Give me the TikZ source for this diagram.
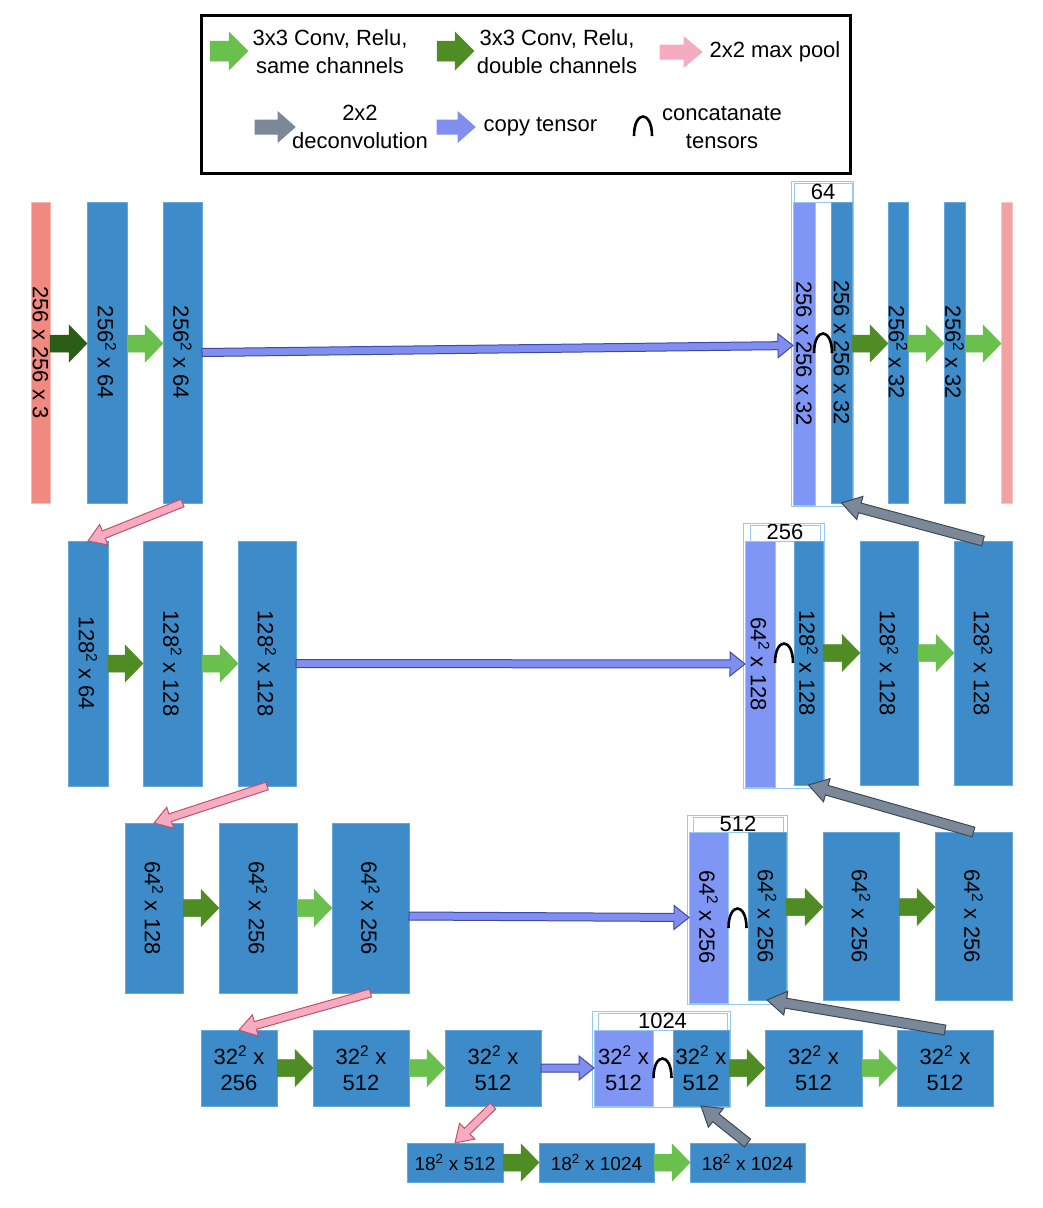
\documentclass[tikz,border=0pt]{standalone}
\usepackage{fontspec}
\setmainfont{Liberation Sans}
\usetikzlibrary{calc,fit}

\definecolor{barblue}{RGB}{61,139,201}
\definecolor{barline}{RGB}{100,168,222}
\definecolor{catpurple}{RGB}{128,150,245}
\definecolor{catline}{RGB}{150,200,240}
\definecolor{inpink}{RGB}{240,137,130}
\definecolor{outpink}{RGB}{242,162,160}
\definecolor{convlight}{RGB}{106,192,76}
\definecolor{convdark}{RGB}{80,140,36}
\definecolor{convdeep}{RGB}{42,94,22}
\definecolor{poolfill}{RGB}{245,172,192}
\definecolor{poolline}{RGB}{195,80,105}
\definecolor{upfill}{RGB}{122,136,152}
\definecolor{upline}{RGB}{62,72,88}
\definecolor{copyfill}{RGB}{128,142,240}
\definecolor{copyline}{RGB}{62,72,165}

\newcommand\barfont{\fontsize{22}{26}\selectfont}
\newcommand\smallbarfont{\fontsize{19}{22}\selectfont}
\newcommand\legfont{\fontsize{22}{28}\selectfont}
\newcommand\sq{\textsuperscript{2}}

\newcommand\fatarrow[6][]{%
  \path (#2) coordinate (fas) (#3) coordinate (fae);
  \path ($(fae)!#6!(fas)$) coordinate (fah);
  \filldraw[#1] ($(fas)!#4!90:(fae)$) -- ($(fah)!#4!-90:(fas)$)
    -- ($(fah)!#5!-90:(fas)$) -- (fae) -- ($(fah)!#5!90:(fas)$)
    -- ($(fah)!#4!90:(fas)$) -- ($(fas)!#4!-90:(fae)$) -- cycle;
}
\newcommand\convto[3]{\fatarrow[#1]{#2}{#3}{8.5pt}{18.5pt}{18pt}}
\newcommand\poolto[2]{\fatarrow[poolarrow]{#1}{#2}{4pt}{11pt}{17pt}}
\newcommand\upto[2]{\fatarrow[deconv]{#1}{#2}{5pt}{12pt}{19pt}}
\newcommand\copyto[2]{\fatarrow[copyarrow]{#1}{#2}{4pt}{12pt}{15pt}}
\newcommand\capsym[2]{\draw[capline] (#1-9,#2) .. controls (#1-9,#2-26) and (#1+9,#2-26) .. (#1+9,#2);}

\tikzset{
  bar/.style={draw=barline, fill=barblue, line width=0.8pt, inner sep=0pt, outer sep=0pt},
  catbar/.style={bar, draw=catline, fill=catpurple},
  inbar/.style={bar, draw=inpink!60!white, fill=inpink},
  outbar/.style={bar, draw=outpink!60!white, fill=outpink},
  head/.style={draw=catline, fill=white, line width=0.8pt, inner sep=0pt, outer sep=0pt,
    text height=13pt, text depth=0pt, font=\barfont},
  catbox/.style={draw=catline, line width=1.2pt, inner sep=1.5pt},
  vtext/.style={rotate=-90, font=\barfont, inner sep=0pt},
  htext/.style={font=\barfont, align=center},
  small/.style={font=\smallbarfont},
  convL/.style={fill=convlight, draw=convlight, line width=0.5pt},
  convD/.style={fill=convdark, draw=convdark, line width=0.5pt},
  convX/.style={fill=convdeep, draw=convdeep, line width=0.5pt},
  poolarrow/.style={fill=poolfill, draw=poolline, line width=1pt},
  deconv/.style={fill=upfill, draw=upline, line width=1pt},
  copyarrow/.style={fill=copyfill, draw=copyline, line width=1pt},
  capline/.style={draw=black, line width=2.6pt}
}

\begin{document}
\begin{tikzpicture}[x=1pt, y=-1pt]
\useasboundingbox (0,0) rectangle (1042,1208);

\node[draw, line width=3pt, minimum width=649, minimum height=158, inner sep=0pt] (key) at (526,94.5) {};
\fatarrow[convL]{210,51}{248,51}{10pt}{19pt}{19pt}
\fatarrow[convD]{437,51}{474,51}{10pt}{19pt}{19pt}
\fatarrow[poolarrow, draw=poolfill]{660,52}{702,52}{7pt}{15pt}{18pt}
\fatarrow[deconv, draw=upfill]{255,127}{295,127}{7pt}{15pt}{17pt}
\fatarrow[copyarrow, draw=copyfill]{437,127}{475,127}{7pt}{15pt}{17pt}
\node[htext, font=\legfont] (k1) at (330,52) {3x3 Conv, Relu,\\same channels};
\node[htext, font=\legfont] (k2) at (557,52) {3x3 Conv, Relu,\\double channels};
\node[htext, anchor=west] (k3) at (706,52) {2x2 max pool};
\node[htext, font=\legfont] (k4) at (360,127) {2x2\\deconvolution};
\node[htext, anchor=west] (k5) at (480,127) {copy tensor};
\node[htext, font=\legfont] (k6) at (722,127) {concatanate\\tensors};
\capsym{643}{136}

\node[inbar, minimum width=19, minimum height=301, label={[vtext]center:256 x 256 x 3}] (in) at (40.5,352.5) {};
\node[bar, minimum width=40, minimum height=301, label={[vtext]center:256\sq{} x 64}] (d11) at (107,352.5) {};
\node[bar, minimum width=39, minimum height=301, label={[vtext]center:256\sq{} x 64}] (d12) at (182.5,352.5) {};
\node[head, minimum width=58, minimum height=19] (h1) at (823,192.5) {64};
\node[catbar, minimum width=22, minimum height=303, label={[vtext]center:256 x 256 x 32}] (p1) at (804,353.5) {};
\node[bar, minimum width=21, minimum height=301, label={[vtext]center:256 x 256 x 32}] (u11) at (841.5,352.5) {};
\node[bar, minimum width=20, minimum height=301, label={[vtext]center:256\sq{} x 32}] (u12) at (898,352.5) {};
\node[bar, minimum width=21, minimum height=301, label={[vtext]center:256\sq{} x 32}] (u13) at (954.5,352.5) {};
\node[outbar, minimum width=11, minimum height=301] (out) at (1006.5,352.5) {};
\node[catbox, fit=(h1)(p1)(u11)] (c1) {};

\node[bar, minimum width=40, minimum height=245, label={[vtext]center:128\sq{} x 64}] (d21) at (88,663.5) {};
\node[bar, minimum width=59, minimum height=245, label={[vtext]center:128\sq{} x 128}] (d22) at (172.5,663.5) {};
\node[bar, minimum width=58, minimum height=245, label={[vtext]center:128\sq{} x 128}] (d23) at (267,663.5) {};
\node[head, minimum width=70, minimum height=16] (h2) at (785,533) {256};
\node[catbar, minimum width=30, minimum height=246, label={[vtext]center:64\sq{} x 128}] (p2) at (760,664) {};
\node[bar, minimum width=29, minimum height=244, label={[vtext]center:128\sq{} x 128}] (u21) at (808.5,663) {};
\node[bar, minimum width=58, minimum height=244, label={[vtext]center:128\sq{} x 128}] (u22) at (889,663) {};
\node[bar, minimum width=58, minimum height=244, label={[vtext]center:128\sq{} x 128}] (u23) at (983,663) {};
\node[catbox, fit=(h2)(p2)(u21)] (c2) {};

\node[bar, minimum width=58, minimum height=170, label={[vtext]center:64\sq{} x 128}] (d31) at (154,908) {};
\node[bar, minimum width=78, minimum height=170, label={[vtext]center:64\sq{} x 256}] (d32) at (258,908) {};
\node[bar, minimum width=77, minimum height=170, label={[vtext]center:64\sq{} x 256}] (d33) at (370.5,908) {};
\node[head, minimum width=90, minimum height=15] (h3) at (738,824.5) {512};
\node[catbar, minimum width=39, minimum height=171, label={[vtext]center:64\sq{} x 256}] (p3) at (708.5,917.5) {};
\node[bar, minimum width=38, minimum height=168, label={[vtext]center:64\sq{} x 256}] (u31) at (767,916) {};
\node[bar, minimum width=76, minimum height=168, label={[vtext]center:64\sq{} x 256}] (u32) at (861,916) {};
\node[bar, minimum width=77, minimum height=168, label={[vtext]center:64\sq{} x 256}] (u33) at (973.5,916) {};
\node[catbox, fit=(h3)(p3)(u31)] (c3) {};

\node[bar, htext, minimum width=76, minimum height=76] (d41) at (239,1068) {32\sq{} x\\256};
\node[bar, htext, minimum width=96, minimum height=76] (d42) at (361,1068) {32\sq{} x\\512};
\node[bar, htext, minimum width=96, minimum height=76] (d43) at (493,1068) {32\sq{} x\\512};
\node[head, minimum width=129, minimum height=17] (h4) at (662.5,1021.5) {1024};
\node[catbar, htext, minimum width=59, minimum height=76] (p4) at (623.5,1068) {32\sq{} x\\512};
\node[bar, htext, minimum width=56, minimum height=76] (u41) at (701,1068) {32\sq{} x\\512};
\node[bar, htext, minimum width=97, minimum height=76] (u42) at (813.5,1068) {32\sq{} x\\512};
\node[bar, htext, minimum width=96, minimum height=76] (u43) at (945,1068) {32\sq{} x\\512};
\node[catbox, fit=(h4)(p4)(u41)] (c4) {};

\node[bar, small, minimum width=96, minimum height=39] (b1) at (455,1162.5) {18\sq{} x 512};
\node[bar, small, minimum width=115, minimum height=39] (b2) at (596.5,1162.5) {18\sq{} x 1024};
\node[bar, small, minimum width=115, minimum height=39] (b3) at (747.5,1162.5) {18\sq{} x 1024};

\convto{convX}{[yshift=9pt]in.east}{[yshift=9pt]d11.west}
\convto{convL}{[yshift=9pt]d11.east}{[yshift=9pt]d12.west}
\convto{convD}{[yshift=9pt]u11.east}{[yshift=9pt]u12.west}
\convto{convL}{[yshift=9pt]u12.east}{[yshift=9pt]u13.west}
\convto{convL}{[yshift=9pt]u13.east}{[yshift=9pt]out.west}
\copyto{d12.east}{[yshift=8pt]p1.west}
\capsym{823}{353}

\convto{convD}{d21.east}{d22.west}
\convto{convL}{d22.east}{d23.west}
\convto{convD}{[yshift=10pt]u21.east}{[yshift=10pt]u22.west}
\convto{convL}{[yshift=10pt]u22.east}{[yshift=10pt]u23.west}
\copyto{d23.east}{p2.west}
\poolto{d12.south}{d21.north}
\upto{u23.north}{u11.south}
\capsym{784}{663}

\convto{convD}{d31.east}{d32.west}
\convto{convL}{d32.east}{d33.west}
\convto{convD}{[yshift=9pt]u31.east}{[yshift=9pt]u32.west}
\convto{convD}{[yshift=9pt]u32.east}{[yshift=9pt]u33.west}
\copyto{[yshift=-8pt]d33.east}{p3.west}
\poolto{d23.south}{d31.north}
\upto{u33.north}{u21.south}
\capsym{737.5}{928}

\convto{convD}{d41.east}{d42.west}
\convto{convL}{d42.east}{d43.west}
\convto{convD}{u41.east}{u42.west}
\convto{convL}{u42.east}{u43.west}
\copyto{d43.east}{p4.west}
\poolto{d33.south}{d41.north}
\upto{u43.north}{u31.south}
\capsym{662.5}{1078}

\convto{convD}{b1.east}{b2.west}
\convto{convL}{b2.east}{b3.west}
\poolto{d43.south}{b1.north}
\upto{b3.north}{u41.south}
\end{tikzpicture}
\end{document}
